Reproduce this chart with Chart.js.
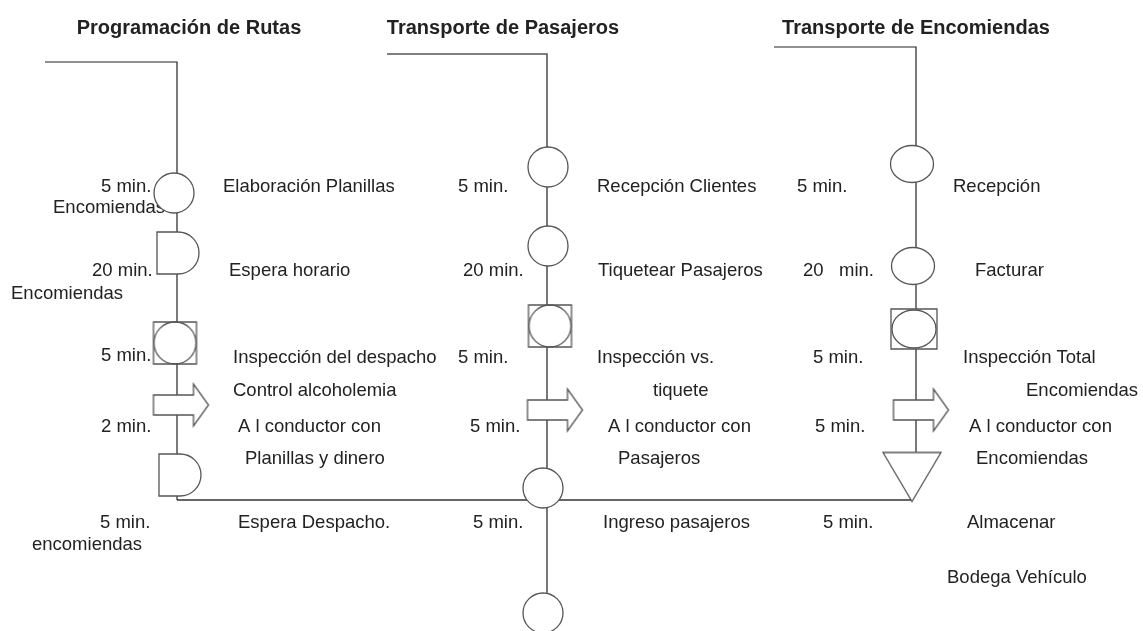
<!DOCTYPE html>
<html>
<head>
<meta charset="utf-8">
<script src="https://cdn.jsdelivr.net/npm/chart.js@4.4.1/dist/chart.umd.min.js"></script>
<style>
  html, body { margin: 0; padding: 0; background: #fff; }
  #wrap { width: 1143px; height: 631px; }
</style>
</head>
<body>
<div id="wrap"><canvas id="flujo" width="1143" height="631"></canvas></div>
<script>
// Encabezados de cada proceso
const procesos = ['Programación de Rutas', 'Transporte de Pasajeros', 'Transporte de Encomiendas'];
const procesosX = [189, 503, 916];
const procesosY = 28;

// Simbolos de cada paso (tipo y posicion en el diagrama)
const rutasTipo = ['operacion', 'demora', 'inspeccion', 'transporte', 'demora'];
const rutasX = [174, 178, 175, 181, 180];
const rutasY = [193, 253, 343, 405, 475];

const pasajerosTipo = ['operacion', 'operacion', 'inspeccion', 'transporte', 'operacion', 'operacion'];
const pasajerosX = [548, 548, 550, 555, 543, 543];
const pasajerosY = [167, 246, 326, 410, 488, 613];

const encomiendasTipo = ['operacionAncha', 'operacionAncha', 'inspeccionAncha', 'transporte', 'almacen'];
const encomiendasX = [912, 913, 914, 921, 912];
const encomiendasY = [164, 266, 329, 410, 477];

// Lineas de flujo
const lineaRutas = [[45, 62], [177, 62], [177, 500]];
const lineaPasajeros = [[387, 54], [547, 54], [547, 600]];
const lineaEncomiendas = [[774, 47], [916, 47], [916, 452]];
const lineaUnion = [[177, 500], [912, 500]];

// Tiempos y descripciones [texto, x, y]
const textosRutas = [
  ['5 min.', 101, 187], ['Encomiendas', 53, 208], ['Elaboración Planillas', 223, 187],
  ['20 min.', 92, 271], ['Encomiendas', 11, 294], ['Espera horario', 229, 271],
  ['5 min.', 101, 356], ['Inspección del despacho', 233, 358],
  ['Control alcoholemia', 233, 391],
  ['2 min.', 101, 427], ['A l conductor con', 238, 427],
  ['Planillas y dinero', 245, 459],
  ['5 min.', 100, 523], ['encomiendas', 32, 545], ['Espera Despacho.', 238, 523]
];
const textosPasajeros = [
  ['5 min.', 458, 187], ['Recepción Clientes', 597, 187],
  ['20 min.', 463, 271], ['Tiquetear Pasajeros', 598, 271],
  ['5 min.', 458, 358], ['Inspección vs.', 597, 358],
  ['tiquete', 653, 391],
  ['5 min.', 470, 427], ['A l conductor con', 608, 427],
  ['Pasajeros', 618, 459],
  ['5 min.', 473, 523], ['Ingreso pasajeros', 603, 523]
];
const textosEncomiendas = [
  ['5 min.', 797, 187], ['Recepción', 953, 187],
  ['20   min.', 803, 271], ['Facturar', 975, 271],
  ['5 min.', 813, 358], ['Inspección Total', 963, 358],
  ['Encomiendas', 1026, 391],
  ['5 min.', 815, 427], ['A l conductor con', 969, 427],
  ['Encomiendas', 976, 459],
  ['5 min.', 823, 523], ['Almacenar', 967, 523],
  ['Bodega Vehículo', 947, 578]
];

// dibuja cada simbolo en un canvas pequeño para usarlo como pointStyle
function simbolo(w, h, trazo) {
  const c = document.createElement('canvas');
  c.width = w; c.height = h;
  const g = c.getContext('2d');
  g.fillStyle = '#fff';
  g.strokeStyle = '#555';
  g.lineWidth = 1.3;
  trazo(g);
  return c;
}
function relleno(g) { g.fill(); g.stroke(); }

const formas = {
  operacion: simbolo(44, 44, g => { g.beginPath(); g.arc(22, 22, 20, 0, Math.PI * 2); relleno(g); }),
  operacionAncha: simbolo(48, 42, g => { g.beginPath(); g.ellipse(24, 21, 21.5, 18.5, 0, 0, Math.PI * 2); relleno(g); }),
  demora: simbolo(46, 46, g => {
    g.beginPath(); g.moveTo(2, 2); g.lineTo(23, 2);
    g.arc(23, 23, 21, -Math.PI / 2, Math.PI / 2); g.lineTo(2, 44); g.closePath(); relleno(g);
  }),
  inspeccion: simbolo(47, 46, g => {
    g.beginPath(); g.rect(2, 2, 43, 42); relleno(g);
    g.beginPath(); g.arc(23.5, 23, 21, 0, Math.PI * 2); g.stroke();
  }),
  inspeccionAncha: simbolo(50, 44, g => {
    g.beginPath(); g.rect(2, 2, 46, 40); relleno(g);
    g.beginPath(); g.ellipse(25, 22, 22, 19, 0, 0, Math.PI * 2); g.stroke();
  }),
  transporte: simbolo(59, 46, g => {
    g.beginPath(); g.moveTo(2, 13); g.lineTo(42, 13); g.lineTo(42, 2); g.lineTo(57, 23);
    g.lineTo(42, 44); g.lineTo(42, 33); g.lineTo(2, 33); g.closePath(); relleno(g);
  }),
  almacen: simbolo(62, 53, g => {
    g.beginPath(); g.moveTo(2, 2); g.lineTo(60, 2); g.lineTo(31, 51); g.closePath(); relleno(g);
  })
};

function pasos(tipos, xs, ys) {
  return tipos.map((t, i) => ({ x: xs[i], y: ys[i], tipo: t }));
}
function puntos(linea) {
  return linea.map(p => ({ x: p[0], y: p[1] }));
}
function linea(datos, color, grosor) {
  return {
    data: puntos(datos), showLine: true, pointRadius: 0, borderColor: color,
    borderWidth: grosor, tension: 0, fill: false, order: 1, clip: false
  };
}

const textos = {
  id: 'textos',
  beforeDatasetsDraw(chart) {
    const { ctx, scales: { x, y } } = chart;
    ctx.save();
    ctx.fillStyle = '#222';
    ctx.textBaseline = 'middle';
    ctx.font = 'bold 20px "Liberation Sans", Arial, sans-serif';
    ctx.textAlign = 'center';
    procesos.forEach((p, i) => ctx.fillText(p, x.getPixelForValue(procesosX[i]), y.getPixelForValue(procesosY)));
    ctx.font = '18.5px "Liberation Sans", Arial, sans-serif';
    ctx.textAlign = 'left';
    [...textosRutas, ...textosPasajeros, ...textosEncomiendas].forEach(([t, tx, ty]) => {
      ctx.fillText(t, x.getPixelForValue(tx), y.getPixelForValue(ty));
    });
    ctx.restore();
  }
};

new Chart(document.getElementById('flujo'), {
  type: 'scatter',
  data: {
    datasets: [
      {
        data: [...pasos(rutasTipo, rutasX, rutasY), ...pasos(pasajerosTipo, pasajerosX, pasajerosY),
               ...pasos(encomiendasTipo, encomiendasX, encomiendasY)],
        pointStyle: ctx => formas[ctx.raw.tipo],
        pointRadius: 20, order: 0, clip: false
      },
      linea(lineaRutas, '#222', 1.2),
      linea(lineaPasajeros, '#555', 1.6),
      linea(lineaEncomiendas, '#222', 1.2),
      linea(lineaUnion, '#666', 2.2)
    ]
  },
  options: {
    responsive: false,
    animation: false,
    events: [],
    layout: { padding: 0, autoPadding: false },
    plugins: { legend: { display: false }, tooltip: { enabled: false } },
    scales: {
      x: { type: 'linear', min: 0, max: 1143, display: false },
      y: { type: 'linear', min: 0, max: 631, reverse: true, display: false }
    }
  },
  plugins: [textos]
});
</script>
</body>
</html>
